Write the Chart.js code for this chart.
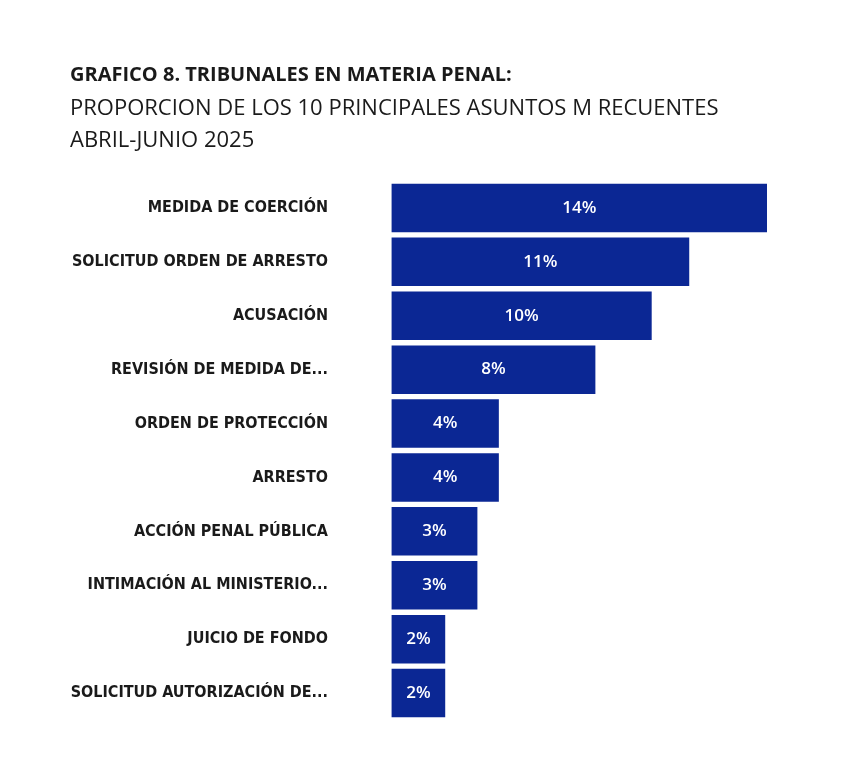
<!DOCTYPE html>
<html>
<head>
<meta charset="utf-8">
<script src="https://cdn.jsdelivr.net/npm/chart.js@4"></script>
<style>
  body { margin: 0; background: #fff; }
  #wrap { position: relative; width: 853px; height: 765px; }
  #titles { position: absolute; left: 70px; top: 56px; font-family: "Open Sans", "Noto Sans", sans-serif; color: #1a1a1a; font-size: 22px; line-height: 32px; z-index: 2; }
  #titles b { font-weight: 700; font-size: 20px; }
  canvas { position: absolute; left: 0; top: 0; }
</style>
</head>
<body>
<div id="wrap">
  <div id="titles">
    <b>GRAFICO 8. TRIBUNALES EN MATERIA PENAL:</b><br>
    PROPORCION DE LOS 10 PRINCIPALES ASUNTOS M RECUENTES<br>
    ABRIL-JUNIO 2025
  </div>
  <canvas id="chart" width="853" height="765"></canvas>
</div>
<script>
// Chart data.
var categories = [
  'MEDIDA DE COERCIÓN',
  'SOLICITUD ORDEN DE ARRESTO',
  'ACUSACIÓN',
  'REVISIÓN DE MEDIDA DE...',
  'ORDEN DE PROTECCIÓN',
  'ARRESTO',
  'ACCIÓN PENAL PÚBLICA',
  'INTIMACIÓN AL MINISTERIO...',
  'JUICIO DE FONDO',
  'SOLICITUD AUTORIZACIÓN DE...'
];
var shares = [ 14, 11.1, 9.7, 7.6, 4.0, 4.0, 3.2, 3.2, 2.0, 2.0 ];

document.addEventListener( 'DOMContentLoaded', function () {
	'use strict';

	var valueLabels = {
		id: 'valueLabels',
		afterDatasetsDraw: function ( chart ) {
			var ctx = chart.ctx;
			var meta = chart.getDatasetMeta( 0 );
			ctx.save();
			ctx.fillStyle = '#ffffff';
			ctx.font = '600 17px "Open Sans", sans-serif';
			ctx.textAlign = 'center';
			ctx.textBaseline = 'middle';
			meta.data.forEach( function ( bar, i ) {
				ctx.fillText( Math.round( shares[ i ] ) + '%', ( bar.base + bar.x ) / 2, bar.y );
			} );
			ctx.restore();
		}
	};

	new Chart( document.getElementById( 'chart' ), {
		type: 'bar',
		data: {
			labels: categories,
			datasets: [ {
				data: shares,
				backgroundColor: '#0b2794',
				barPercentage: 0.9,
				categoryPercentage: 1
			} ]
		},
		options: {
			indexAxis: 'y',
			responsive: false,
			animation: false,
			layout: { padding: { top: 181, bottom: 45, right: 86, left: 0 } },
			plugins: { legend: { display: false }, tooltip: { enabled: false } },
			scales: {
				x: { display: false, min: -1.7, max: 14 },
				y: {
					grid: { display: false },
					border: { display: false },
					afterFit: function ( scale ) { scale.width = 346; },
					ticks: {
						color: '#1a1a1a',
						padding: 10,
						font: { family: '"DejaVu Sans Condensed", "Liberation Sans Narrow", sans-serif', size: 16, weight: 'bold' }
					}
				}
			}
		},
		plugins: [ valueLabels ]
	} );
} );
</script>
</body>
</html>
